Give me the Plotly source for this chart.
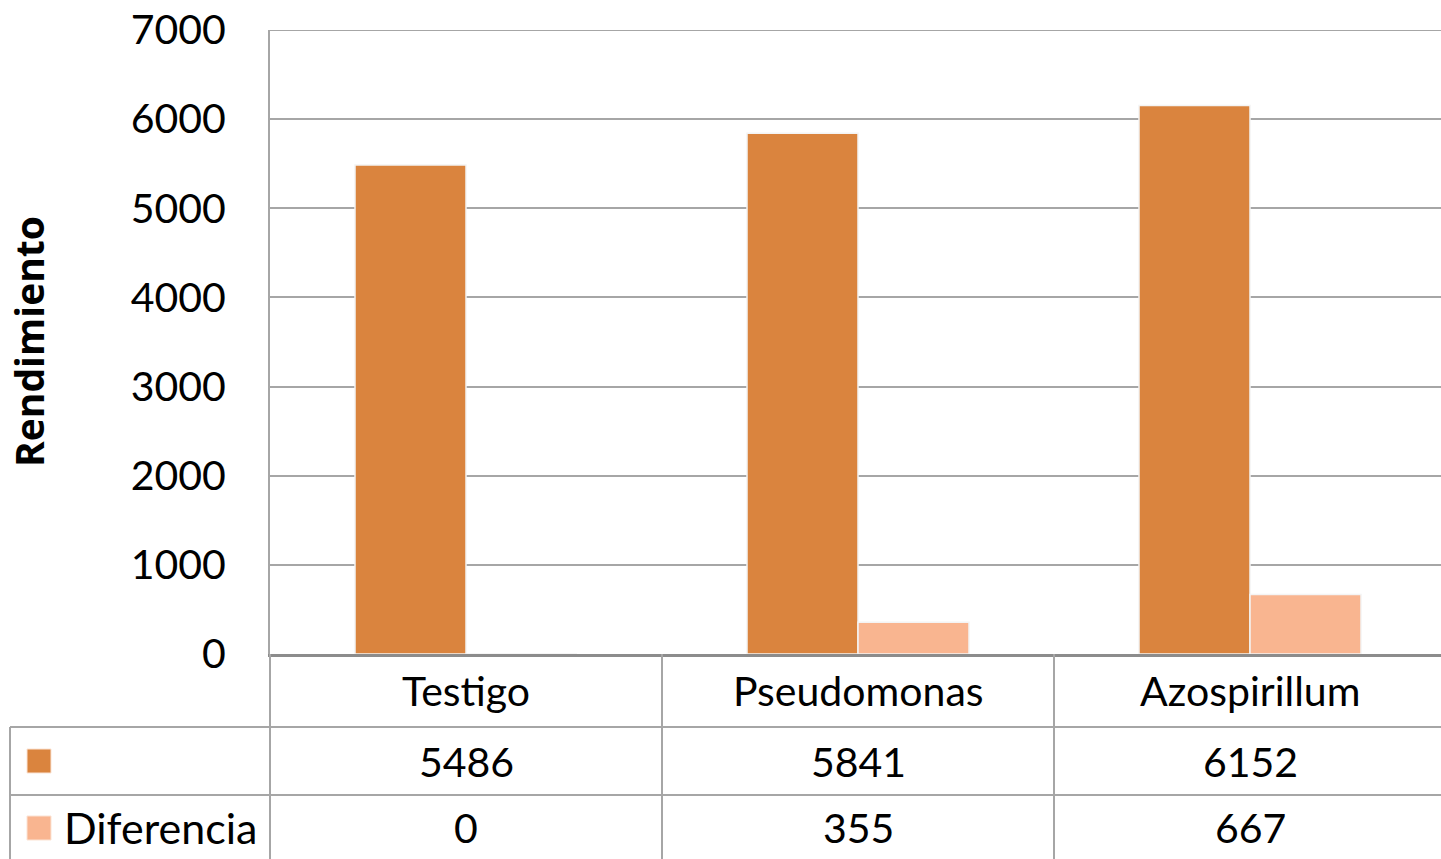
import plotly.graph_objects as go

categories = ["Testigo", "Pseudomonas", "Azospirillum"]
series_names = ["", "Diferencia"]
rendimiento = [5486, 5841, 6152]
diferencia = [0, 355, 667]
y_ticks = [0, 1000, 2000, 3000, 4000, 5000, 6000, 7000]
y_title = "Rendimiento"

colors = ["#DA843E", "#F9B590"]
W, H = 1441, 859
L, T, R = 270, 30, 0
B = H - 654
PW, PH = W - L - R, H - T - B
FONT = "Lato, 'Open Sans', sans-serif"
FS = 41
GRID = "#A6A6A6"

# helpers: convert screenshot pixel positions to paper coordinates
def px_x(px):
    return (px - L) / PW

def px_y(py):
    return (H - B - py) / PH

xs = list(range(len(categories)))
fig = go.Figure()
for name, vals, col in zip(series_names, [rendimiento, diferencia], colors):
    fig.add_trace(go.Bar(x=xs, y=vals, name=name, marker=dict(color=col, line=dict(color="#F4F4F4", width=1.5))))

cat_w = 392
fig.update_layout(
    width=W, height=H, margin=dict(l=L, r=R, t=T, b=B, autoexpand=False),
    paper_bgcolor="white", plot_bgcolor="white",
    barmode="group", bargap=1 - 222 / cat_w, bargroupgap=0,
    showlegend=False,
    font=dict(family=FONT, size=FS, color="black"),
)
fig.update_xaxes(range=[-0.5, -0.5 + PW / cat_w], showticklabels=False, showgrid=False, automargin=False,
                 showline=True, linecolor="#8C8C8C", linewidth=3, zeroline=False, ticks="")
fig.update_yaxes(range=[y_ticks[0], y_ticks[-1]], tickvals=y_ticks, showgrid=True, gridcolor=GRID, gridwidth=2,
                 zeroline=False, showline=True, linecolor=GRID, linewidth=2, ticks="", automargin=False,
                 ticklabelstandoff=34, ticklabeloverflow="allow", tickfont=dict(family=FONT, size=FS))

# top gridline at the max tick (plotly omits grid at the range edge)
fig.add_shape(type="line", xref="paper", yref="y", x0=0, x1=1, y0=y_ticks[-1], y1=y_ticks[-1],
              line=dict(color=GRID, width=2), layer="below")

# y-axis title
fig.add_annotation(text="<b>" + y_title + "</b>", xref="paper", yref="paper",
                   x=px_x(28), y=px_y(342), textangle=-90, showarrow=False,
                   xanchor="center", yanchor="middle", borderpad=0,
                   font=dict(family="'Open Sans', sans-serif", size=39, color="black"))

# table lines
line = dict(color=GRID, width=2)
for xb in [0.5, 1.5]:
    fig.add_shape(type="line", xref="x", yref="paper", x0=xb, x1=xb, y0=px_y(654), y1=px_y(859), line=line)
fig.add_shape(type="line", xref="paper", yref="paper", x0=0, x1=0, y0=px_y(654), y1=px_y(859), line=line)
fig.add_shape(type="line", xref="paper", yref="paper", x0=px_x(10), x1=px_x(10), y0=px_y(727), y1=px_y(859), line=line)
for py in [727, 795]:
    fig.add_shape(type="line", xref="paper", yref="paper", x0=px_x(10), x1=1, y0=px_y(py), y1=px_y(py), line=line)

# category labels
for i, c in enumerate(categories):
    fig.add_annotation(text=c, xref="x", yref="paper", x=i, y=px_y(690), showarrow=False,
                       font=dict(family=FONT, size=FS), yanchor="middle")
# data rows
row_y = [761, 828]
for vals, ry in zip([rendimiento, diferencia], row_y):
    for i, v in enumerate(vals):
        fig.add_annotation(text=str(v), xref="x", yref="paper", x=i, y=px_y(ry), showarrow=False,
                           font=dict(family=FONT, size=FS), yanchor="middle")
# legend keys & names
for name, col, ry in zip(series_names, colors, row_y):
    fig.add_shape(type="rect", xref="paper", yref="paper", x0=px_x(27), x1=px_x(51),
                  y0=px_y(ry - 12), y1=px_y(ry + 12), fillcolor=col, line=dict(color="#FBE3D4", width=1))
    if name:
        fig.add_annotation(text=name, xref="paper", yref="paper", x=px_x(62), y=px_y(ry), showarrow=False,
                           xanchor="left", yanchor="middle", font=dict(family=FONT, size=FS + 2))

fig.write_html(
    "out.html",
    config={"displayModeBar": False},
    post_script="document.body.style.margin='0';document.documentElement.style.overflow='hidden';document.body.style.overflow='hidden';",
)
